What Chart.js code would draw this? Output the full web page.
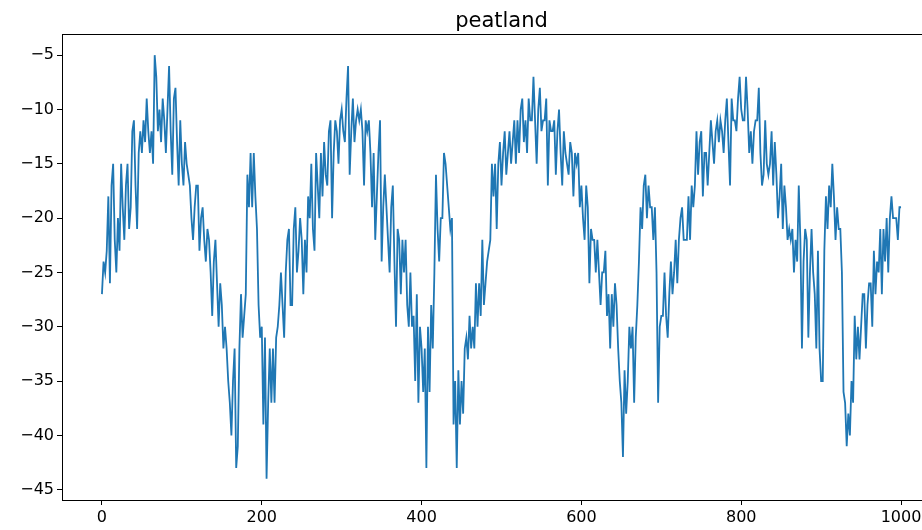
<!DOCTYPE html>
<html>
<head>
<meta charset="utf-8">
<title>peatland</title>
<script src="https://cdn.jsdelivr.net/npm/chart.js@4.4.1/dist/chart.umd.min.js"></script>
<style>
  html, body { margin: 0; padding: 0; background: #fff; overflow: hidden; }
  #wrap { position: relative; width: 960px; height: 530px; }
</style>
</head>
<body>
<div id="wrap"><canvas id="myChart"></canvas></div>
<script>
var chartTitle = "peatland";
var xStep = 2;   // one reading every 2 steps
var xTicks = [0, 200, 400, 600, 800, 1000];
var yTicks = [-5, -10, -15, -20, -25, -30, -35, -40, -45];

// readings, x = 0, 2, 4 ... 1000
var peatland = [
  -27, -24, -25, -23, -18, -26, -17, -15, -22, -25, -20, -23, -15, -19, -22, -17, -15, -21, -19, -12, -11, -17, -21, -14, -12,
  -14, -11, -13, -9, -12, -14, -12, -15, -5, -7, -12, -10, -13, -9, -11, -14, -10, -6, -12, -16, -9, -8, -13, -17, -11,
  -15, -17, -13, -15, -16, -17, -20, -22, -19, -17, -17, -23, -20, -19, -22, -24, -21, -22, -25, -29, -24, -22, -26, -30, -26,
  -28, -32, -30, -32, -35, -37, -40, -35, -32, -43, -41, -32, -27, -31, -29, -27, -16, -19, -14, -19, -14, -18, -21, -28, -31,
  -30, -39, -31, -44, -37, -32, -37, -32, -37, -31, -30, -28, -25, -28, -31, -25, -22, -21, -28, -28, -21, -19, -25, -23, -20,
  -22, -27, -22, -25, -18, -20, -15, -21, -23, -14, -17, -20, -14, -18, -13, -16, -17, -12, -11, -20, -14, -11, -12, -15, -11,
  -10, -12, -13, -9, -6, -16, -12, -9, -13, -11, -10, -11, -10, -12, -17, -11, -12, -11, -14, -19, -14, -22, -18, -14, -11,
  -24, -19, -16, -19, -22, -25, -19, -17, -24, -30, -21, -22, -27, -22, -25, -22, -28, -30, -25, -30, -29, -35, -27, -37, -30,
  -32, -36, -32, -43, -30, -36, -28, -32, -25, -16, -21, -24, -20, -20, -14, -15, -17, -19, -21, -20, -39, -35, -43, -34, -39,
  -35, -38, -32, -31, -33, -29, -32, -30, -32, -26, -30, -26, -29, -22, -28, -26, -24, -23, -22, -15, -18, -15, -21, -15, -13,
  -17, -14, -12, -16, -14, -12, -15, -13, -11, -15, -11, -14, -10, -9, -13, -11, -14, -9, -11, -11, -7, -11, -15, -10, -8,
  -12, -11, -11, -9, -17, -11, -12, -12, -11, -16, -12, -10, -14, -17, -12, -14, -15, -16, -13, -14, -18, -14, -15, -14, -19,
  -17, -20, -22, -17, -19, -26, -21, -22, -22, -25, -22, -25, -28, -25, -25, -23, -29, -27, -32, -27, -30, -26, -28, -32, -35,
  -37, -42, -34, -38, -35, -30, -32, -30, -37, -31, -28, -24, -19, -21, -17, -16, -20, -17, -19, -19, -22, -19, -25, -37, -30,
  -29, -29, -25, -29, -31, -27, -24, -27, -25, -22, -26, -22, -20, -19, -22, -22, -22, -18, -22, -17, -19, -17, -12, -16, -13,
  -12, -18, -14, -14, -17, -14, -11, -13, -15, -12, -11, -13, -11, -12, -14, -11, -9, -13, -17, -9, -11, -11, -12, -9, -7,
  -10, -11, -11, -7, -10, -14, -12, -15, -12, -11, -11, -8, -14, -17, -16, -11, -15, -16, -15, -12, -17, -13, -16, -20, -18,
  -15, -21, -17, -19, -22, -21, -22, -21, -25, -22, -24, -17, -22, -32, -24, -21, -22, -31, -25, -21, -25, -27, -32, -23, -32,
  -35, -35, -23, -18, -21, -17, -19, -15, -18, -22, -19, -21, -21, -25, -36, -37, -41, -38, -40, -35, -37, -29, -33, -30, -33,
  -30, -27, -27, -32, -28, -26, -26, -30, -23, -27, -24, -25, -21, -27, -21, -24, -20, -25, -20, -18, -20, -20, -20, -22, -19,
  -19
];

var points = [];
for (var i = 0; i < peatland.length; i++) {
  points.push({ x: i * xStep, y: peatland[i] });
}

function minusSign(v) {
  return String(v).replace("-", "\u2212");
}

// axes box drawn over the line, like the spines
var frame = {
  id: "frame",
  afterDatasetsDraw: function (chart) {
    var a = chart.chartArea;
    var ctx = chart.ctx;
    ctx.save();
    ctx.strokeStyle = "#000";
    ctx.lineWidth = 1;
    ctx.strokeRect(Math.round(a.left) + 0.5, Math.round(a.top) + 0.5,
      Math.round(a.right - a.left), Math.round(a.bottom - a.top));
    ctx.restore();
  }
};

// title centred over the plot area
var heading = {
  id: "heading",
  afterDraw: function (chart) {
    var a = chart.chartArea;
    var ctx = chart.ctx;
    ctx.save();
    ctx.fillStyle = "#000";
    ctx.font = "21px 'DejaVu Sans'";
    ctx.textAlign = "center";
    ctx.textBaseline = "alphabetic";
    ctx.fillText(chartTitle, (a.left + a.right) / 2, 27);
    ctx.restore();
  }
};

var tickFont = { family: "DejaVu Sans", size: 16 };

var myChart = new Chart(document.getElementById("myChart"), {
  type: "line",
  data: {
    datasets: [{
      label: chartTitle,
      data: points,
      borderColor: "#1f77b4",
      borderWidth: 1.8,
      pointRadius: 0,
      tension: 0,
      fill: false
    }]
  },
  options: {
    responsive: true,
    maintainAspectRatio: false,
    animation: false,
    layout: { padding: { top: 34, right: 19, left: 0, bottom: 0 } },
    plugins: {
      legend: { display: false },
      title: { display: false },
      tooltip: { enabled: false }
    },
    scales: {
      x: {
        type: "linear",
        min: -50,
        max: 1050,
        afterBuildTicks: function (axis) {
          axis.ticks = xTicks.map(function (v) { return { value: v }; });
        },
        afterFit: function (axis) { axis.height = 30; },
        ticks: { callback: minusSign, font: tickFont, color: "#000", padding: 3, maxRotation: 0, autoSkip: false },
        grid: { drawOnChartArea: false, drawTicks: true, tickLength: 5, color: "#000" },
        border: { display: false }
      },
      y: {
        min: -45.95,
        max: -3.05,
        afterBuildTicks: function (axis) {
          axis.ticks = yTicks.map(function (v) { return { value: v }; });
        },
        afterFit: function (axis) { axis.width = 62; },
        ticks: { callback: minusSign, font: tickFont, color: "#000", padding: 3, autoSkip: false },
        grid: { drawOnChartArea: false, drawTicks: true, tickLength: 5, color: "#000" },
        border: { display: false }
      }
    }
  },
  plugins: [frame, heading]
});
</script>
</body>
</html>
